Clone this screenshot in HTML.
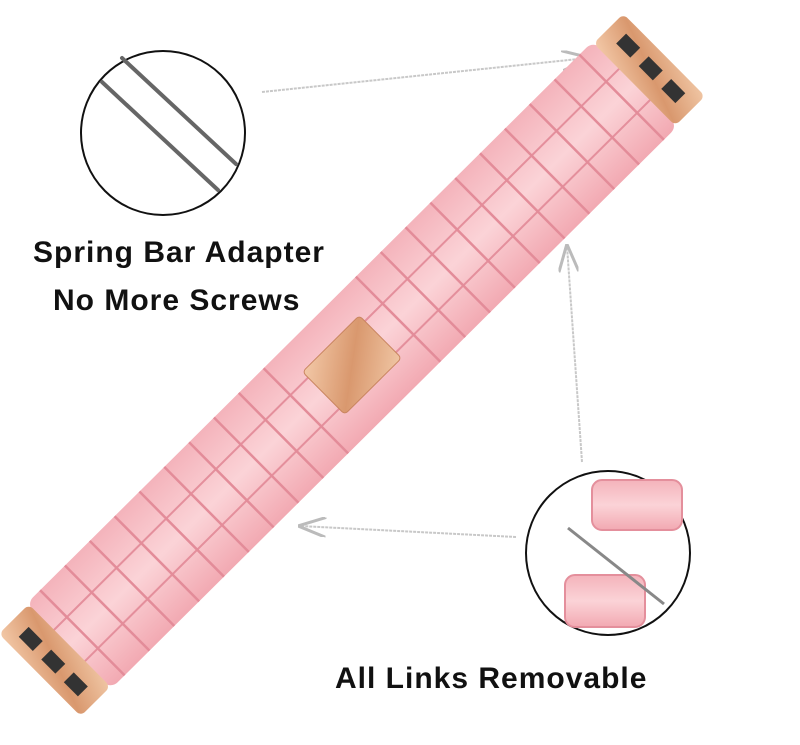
<!DOCTYPE html>
<html><head><meta charset="utf-8"><style>
html,body{margin:0;padding:0;background:#fff;}
body{width:800px;height:745px;overflow:hidden;position:relative;font-family:"Liberation Sans",Arial,sans-serif;}
.t{position:absolute;font-size:30px;font-weight:bold;color:#111;letter-spacing:1px;}
</style></head><body>
<svg width="800" height="745" style="position:absolute;left:0;top:0">
<defs>
<linearGradient id="pk" x1="0" y1="0" x2="0" y2="1">
<stop offset="0" stop-color="#f4b3bb"/><stop offset="0.5" stop-color="#fbd3d7"/><stop offset="1" stop-color="#f2a9b2"/>
</linearGradient>
<linearGradient id="gd" x1="0" y1="0" x2="1" y2="1">
<stop offset="0" stop-color="#f3c9a8"/><stop offset="0.5" stop-color="#d9986e"/><stop offset="1" stop-color="#f0c6a4"/>
</linearGradient>
<marker id="ah" markerWidth="14" markerHeight="10" refX="13" refY="5" orient="auto"><path d="M0,0 L14,5 L0,10" fill="none" stroke="#bbb" stroke-width="1.5"/></marker>
</defs>
<line x1="262" y1="92" x2="588" y2="58" stroke="#c8c8c8" stroke-width="2" stroke-dasharray="3,1" marker-end="url(#ah)"/>
<line x1="582" y1="462" x2="567" y2="246" stroke="#c8c8c8" stroke-width="2" stroke-dasharray="3,1" marker-end="url(#ah)"/>
<line x1="516" y1="537" x2="300" y2="526" stroke="#c8c8c8" stroke-width="2" stroke-dasharray="3,1" marker-end="url(#ah)"/>
<g transform="translate(352,365) rotate(-44.8)">
<rect x="-400" y="-60" width="800" height="120" rx="10" fill="url(#pk)"/>
<g stroke="#e48f9c" stroke-width="2" fill="none">
<line x1="-400" y1="-22" x2="400" y2="-22"/>
<line x1="-400" y1="22" x2="400" y2="22"/>
</g>
<g stroke="#e38c99" stroke-width="2.5">
<path d="M-380,-60V60M-345,-60V60M-310,-60V60M-275,-60V60M-240,-60V60M-205,-60V60M-170,-60V60M-135,-60V60M-100,-60V60M-65,-60V60M65,-60V60M100,-60V60M135,-60V60M170,-60V60M205,-60V60M240,-60V60M275,-60V60M310,-60V60M345,-60V60M380,-60V60"/>
</g>
<rect x="-40" y="-30" width="80" height="60" rx="4" fill="url(#gd)" stroke="#c98560"/>
<rect x="-440" y="-58" width="42" height="116" rx="6" fill="url(#gd)"/>
<rect x="398" y="-58" width="42" height="116" rx="6" fill="url(#gd)"/>
<rect x="-428" y="-42" width="14" height="20" fill="#333"/><rect x="-428" y="-10" width="14" height="20" fill="#333"/><rect x="-428" y="22" width="14" height="20" fill="#333"/>
<rect x="414" y="-42" width="14" height="20" fill="#333"/><rect x="414" y="-10" width="14" height="20" fill="#333"/><rect x="414" y="22" width="14" height="20" fill="#333"/>
</g>
<circle cx="163" cy="133" r="82" fill="#fff" stroke="#111" stroke-width="2"/>
<line x1="122" y1="58" x2="236" y2="164" stroke="#666" stroke-width="4" stroke-linecap="round"/>
<line x1="102" y1="82" x2="218" y2="190" stroke="#666" stroke-width="4" stroke-linecap="round"/>
<circle cx="608" cy="553" r="82" fill="#fff" stroke="#111" stroke-width="2"/>
<rect x="592" y="480" width="90" height="50" rx="10" fill="url(#pk)" stroke="#e48f9c" stroke-width="2"/>
<rect x="565" y="575" width="80" height="52" rx="10" fill="url(#pk)" stroke="#e48f9c" stroke-width="2"/>
<line x1="568" y1="528" x2="664" y2="604" stroke="#888" stroke-width="3"/>
</svg>
<div class="t" style="left:33px;top:236px;">Spring Bar Adapter</div>
<div class="t" style="left:53px;top:284px;">No More Screws</div>
<div class="t" style="left:335px;top:662px;">All Links Removable</div>
</body></html>
